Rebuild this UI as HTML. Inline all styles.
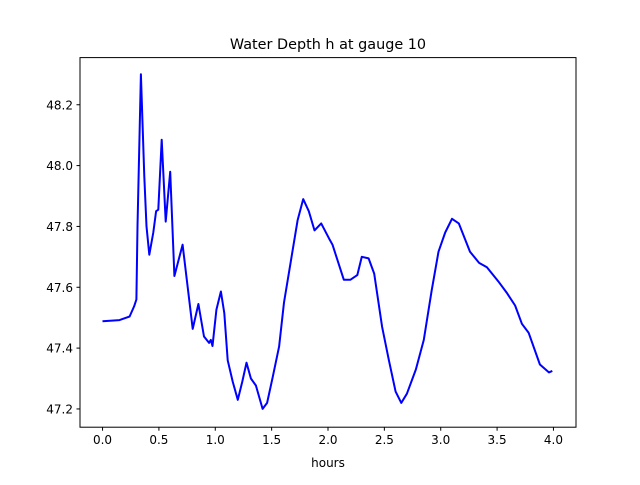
<!DOCTYPE html>
<html><head><meta charset="utf-8"><style>
body{margin:0;background:#fff}
svg text{font-family:"DejaVu Sans","Liberation Sans",sans-serif;fill:#000}
</style></head><body>
<svg width="640" height="480" xmlns="http://www.w3.org/2000/svg">
<rect width="640" height="480" fill="#fff"/>
<text x="328" y="49" font-size="14.4" text-anchor="middle">Water Depth h at gauge 10</text>
<g id="ticks"></g>
<path id="line" fill="none" stroke="#0000ff" stroke-width="2" stroke-linejoin="round"/>
<rect x="80" y="57.6" width="496" height="369.6" fill="none" stroke="#000" stroke-width="1"/>
<text x="328" y="467" font-size="12" text-anchor="middle">hours</text>
</svg>
<script>
const hours=[0,0.15,0.24,0.28,0.30,0.31,0.34,0.37,0.39,0.415,0.45,0.475,0.495,0.525,0.56,0.60,0.637,0.71,0.755,0.80,0.85,0.90,0.945,0.96,0.975,1.01,1.05,1.08,1.11,1.155,1.2,1.24,1.277,1.316,1.36,1.42,1.46,1.51,1.566,1.61,1.67,1.73,1.78,1.83,1.88,1.94,2.01,2.04,2.14,2.20,2.26,2.30,2.36,2.41,2.48,2.54,2.60,2.65,2.70,2.78,2.85,2.92,2.98,3.04,3.10,3.16,3.26,3.34,3.41,3.51,3.59,3.66,3.72,3.78,3.88,3.96,3.99];
const depth=[47.488,47.492,47.504,47.537,47.56,47.80,48.30,47.964,47.80,47.707,47.78,47.85,47.855,48.085,47.816,47.98,47.637,47.74,47.60,47.463,47.545,47.438,47.417,47.427,47.407,47.526,47.586,47.515,47.36,47.29,47.23,47.29,47.352,47.30,47.277,47.20,47.22,47.306,47.405,47.55,47.685,47.82,47.89,47.85,47.787,47.81,47.76,47.74,47.625,47.625,47.64,47.70,47.695,47.645,47.47,47.36,47.257,47.22,47.25,47.33,47.427,47.59,47.717,47.78,47.825,47.81,47.717,47.68,47.666,47.62,47.58,47.54,47.48,47.45,47.346,47.32,47.325];
const xTicks=[0,0.5,1,1.5,2,2.5,3,3.5,4];
const yTicks=[47.2,47.4,47.6,47.8,48.0,48.2];
const L=80,R=576,T=57.6,B=427.2;
const xMin=-0.2,xMax=4.2,yMin=47.14,yMax=48.355;
const sx=v=>L+(v-xMin)/(xMax-xMin)*(R-L);
const sy=v=>B-(v-yMin)/(yMax-yMin)*(B-T);
const NS="http://www.w3.org/2000/svg";
const g=document.getElementById('ticks');
function mk(tag,attrs){const e=document.createElementNS(NS,tag);for(const k in attrs)e.setAttribute(k,attrs[k]);g.appendChild(e);return e;}
xTicks.forEach(v=>{
 const l=mk('line',{x1:sx(v),x2:sx(v),y1:B,y2:B+3.5,stroke:'#000'});
 
 
 const t=mk('text',{x:sx(v),y:B+17,'font-size':'12','text-anchor':'middle'});
 t.textContent=v.toFixed(1);
 
 
});
yTicks.forEach(v=>{
 const l=mk('line',{x1:L-3.5,x2:L,y1:sy(v),y2:sy(v),stroke:'#000'});
 
 
 const t=mk('text',{x:L-7,y:sy(v)+4.5,'font-size':'12','text-anchor':'end'});
 t.textContent=v.toFixed(1);
 
 
});
document.getElementById('line').setAttribute('d',hours.map((h,i)=>(i?'L':'M')+sx(h).toFixed(1)+','+sy(depth[i]).toFixed(1)).join(''));
</script>
</body></html>
